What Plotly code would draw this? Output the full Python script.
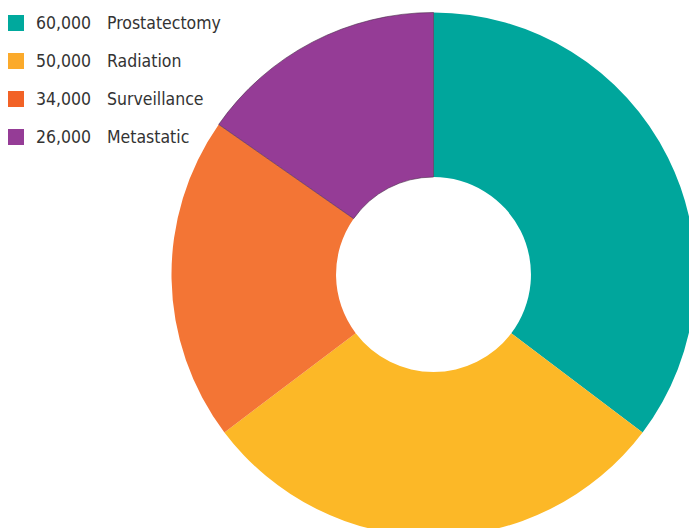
import plotly.graph_objects as go

categories = ["Prostatectomy", "Radiation", "Surveillance", "Metastatic"]
values = [60000, 50000, 34000, 26000]
value_labels = ["60,000", "50,000", "34,000", "26,000"]
slice_colors = ["#00A69C", "#FCB827", "#F37535", "#953C96"]
legend_colors = ["#00A99D", "#FBAA2B", "#F26226", "#953C96"]

W, H = 700, 540
cx, cy, R = 433.5, 274.5, 262.0

fig = go.Figure()
fig.add_trace(go.Pie(
    labels=categories,
    values=values,
    sort=False,
    direction="clockwise",
    rotation=0,
    hole=0.372,
    textinfo="none",
    hoverinfo="label+value",
    showlegend=False,
    marker=dict(colors=slice_colors,
                line=dict(color=["rgba(0,0,0,0)", "rgba(0,0,0,0)", "rgba(0,0,0,0)", "#4a2a4a"],
                          width=[0, 0, 0, 0.6])),
    domain=dict(x=[(cx - R) / W, (cx + R) / W],
                y=[1 - (cy + R) / H, 1 - (cy - R) / H]),
))

font = dict(family="DejaVu Sans Condensed, Liberation Sans Narrow, sans-serif", size=17.5, color="#333333")
shapes = []
annotations = []
for i, (num, cat, col) in enumerate(zip(value_labels, categories, legend_colors)):
    yc = 23 + 38 * i
    shapes.append(dict(type="rect", xref="paper", yref="paper",
                       x0=8 / W, x1=24 / W, y0=1 - (yc + 8) / H, y1=1 - (yc - 8) / H,
                       fillcolor=col, line=dict(width=0)))
    annotations.append(dict(xref="paper", yref="paper", x=34 / W, y=1 - yc / H,
                            xanchor="left", yanchor="middle", text=num,
                            showarrow=False, font=font))
    annotations.append(dict(xref="paper", yref="paper", x=105 / W, y=1 - yc / H,
                            xanchor="left", yanchor="middle", text=cat,
                            showarrow=False, font=font))

fig.update_layout(
    width=W, height=H,
    margin=dict(l=0, r=0, t=0, b=0),
    paper_bgcolor="white",
    plot_bgcolor="white",
    shapes=shapes,
    annotations=annotations,
)

fig.write_html(
    "out.html",
    config={"displayModeBar": False},
    post_script="document.body.style.margin='0';"
                "document.documentElement.style.overflow='hidden';"
                "document.body.style.overflow='hidden';",
)
